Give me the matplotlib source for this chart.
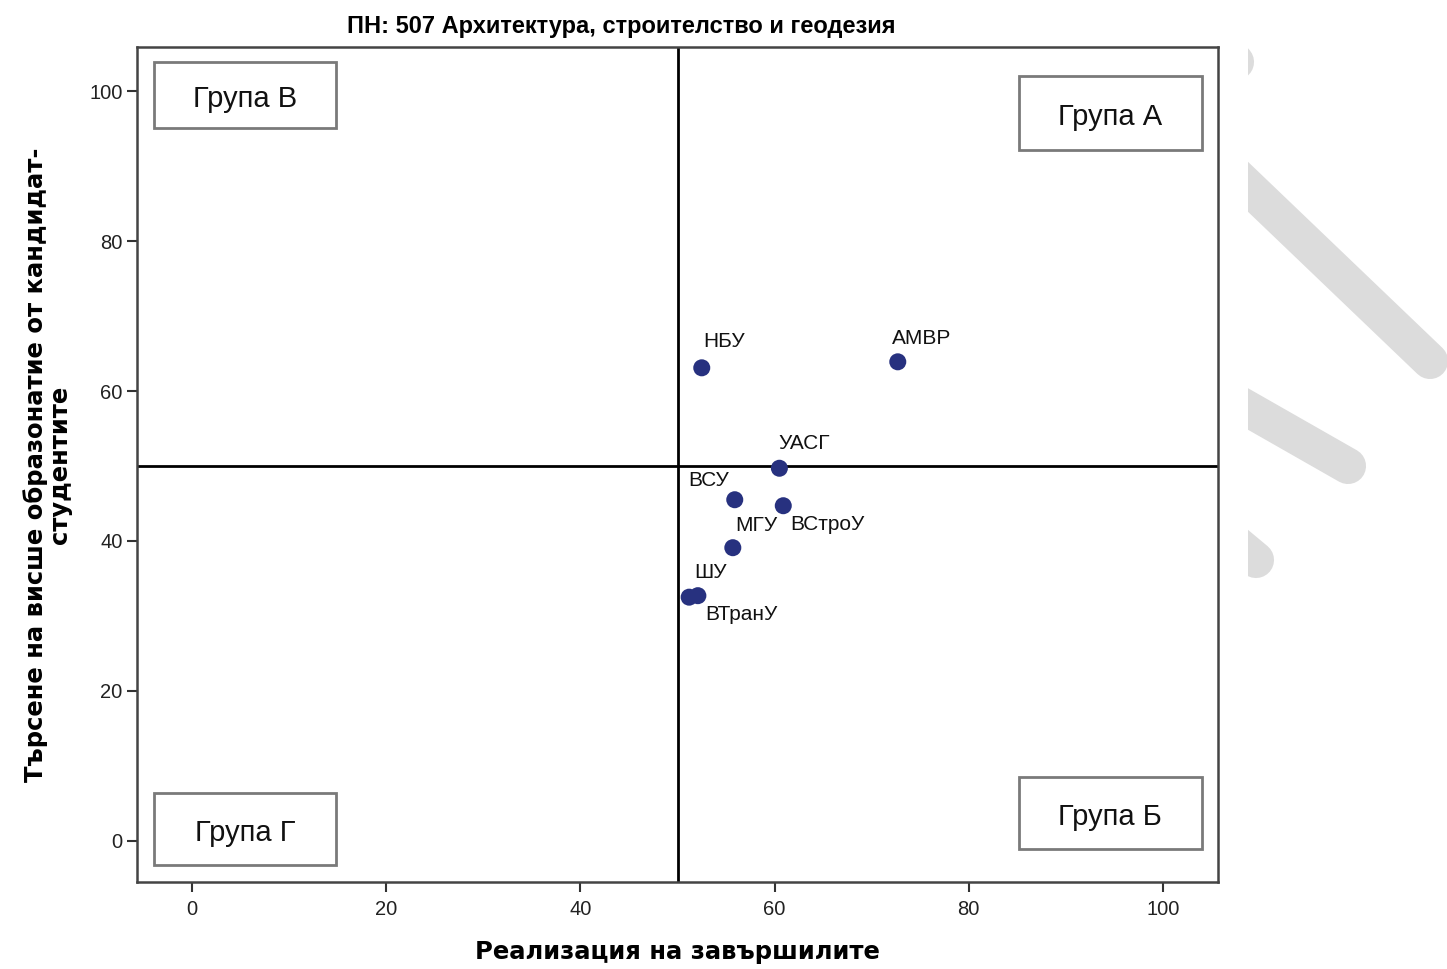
import matplotlib
matplotlib.use('Agg')
from matplotlib import pyplot as plt
from matplotlib.patches import Rectangle

plt.rcParams['font.family'] = ['Liberation Sans', 'DejaVu Sans']

# data
names = ['НБУ', 'АМВР', 'УАСГ', 'ВСУ', 'ВСтроУ', 'МГУ', 'ШУ', 'ВТранУ']
realization = [52.5, 72.7, 60.5, 55.9, 60.9, 55.7, 51.2, 52.1]
demand = [63.1, 63.9, 49.7, 45.5, 44.7, 39.1, 32.5, 32.7]
ticks = [0, 20, 40, 60, 80, 100]
groups = ['Група А', 'Група Б', 'Група В', 'Група Г']

# label offsets in points (dx, dy, ha, va)
offs = {
    'НБУ': (1, 12, 'left', 'bottom'),
    'АМВР': (-4, 10, 'left', 'bottom'),
    'УАСГ': (-1, 11, 'left', 'bottom'),
    'ВСУ': (-4, 7, 'right', 'bottom'),
    'ВСтроУ': (5, -7, 'left', 'top'),
    'МГУ': (2, 9, 'left', 'bottom'),
    'ШУ': (4, 11, 'left', 'bottom'),
    'ВТранУ': (5, -7, 'left', 'top'),
}
# group boxes: (x0, y0, x1, y1) in data units
boxes = {
    'Група В': (-3.9, 95.1, 14.8, 103.9),
    'Група А': (85.2, 92.1, 104.0, 102.0),
    'Група Г': (-3.9, -3.2, 14.8, 6.4),
    'Група Б': (85.2, -1.1, 104.0, 8.5),
}

W, H = 1447, 969
fig = plt.figure(figsize=(W / 100, H / 100), dpi=100)
ax = fig.add_axes([137 / W, 1 - 882 / H, (1218 - 137) / W, (882 - 47) / H])

ax.axvline(50, color='black', lw=2.0, zorder=1)
ax.axhline(50, color='black', lw=2.0, zorder=1)

ax.scatter(realization, demand, s=150, color='#27317F', zorder=3, edgecolors='none')
for n, x, y in zip(names, realization, demand):
    dx, dy, ha, va = offs[n]
    ax.annotate(n, (x, y), xytext=(dx, dy), textcoords='offset points',
                ha=ha, va=va, fontsize=15, color='#111111')

for g in groups:
    x0, y0, x1, y1 = boxes[g]
    ax.add_patch(Rectangle((x0, y0), x1 - x0, y1 - y0, fill=False,
                           edgecolor='#7a7a7a', lw=2.0, zorder=2))
    ax.text((x0 + x1) / 2, (y0 + y1) / 2 - 0.5, g, ha='center', va='center',
            fontsize=21, color='#111111')

ax.set_xlim(-5.7, 105.7)
ax.set_ylim(-5.5, 105.9)
ax.set_xticks(ticks)
ax.set_yticks(ticks)
ax.tick_params(direction='out', length=7, width=1.5, labelsize=14.5, colors='#333333',
               labelcolor='#222222')
ax.tick_params(axis='x', pad=6)
for s in ax.spines.values():
    s.set_color('#444444')
    s.set_linewidth(1.8)

ax.set_xlabel('Реализация на завършилите', fontsize=17.5, fontweight='bold', labelpad=15,
              family='DejaVu Sans')
ax.set_ylabel('Търсене на висше образонатие от кандидат-\nстудентите', fontsize=17.5,
              fontweight='bold', labelpad=12, linespacing=1.0, family='DejaVu Sans')
fig.text(621 / W, 1 - 26 / H, 'ПН: 507 Архитектура, строителство и геодезия', fontsize=17,
         fontweight='bold', ha='center', va='center')

# grey watermark strokes at the right edge
wm = fig.add_axes([1248 / W, 0, (W - 1248) / W, 1])
wm.set_xlim(1248, W)
wm.set_ylim(H, 0)
wm.axis('off')
for (xa, ya), (xb, yb) in [((1200, 20), (1236, 62)), ((1220, 160), (1430, 361)),
                           ((1220, 393), (1348, 466)), ((1220, 530), (1256, 560))]:
    wm.plot([xa, xb], [ya, yb], color='#dcdcdc', lw=26, solid_capstyle='round')

fig.savefig('out.png', dpi=100)
